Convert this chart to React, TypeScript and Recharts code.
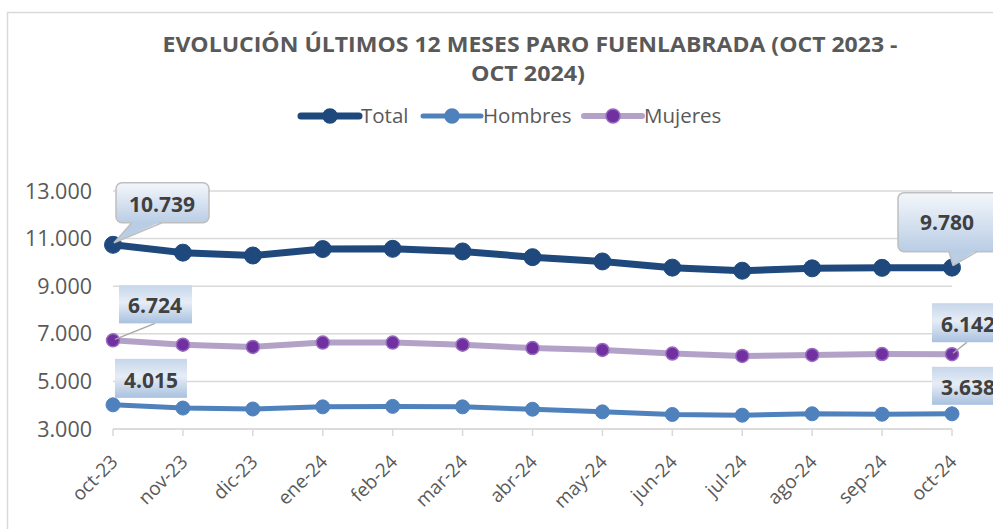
import React from 'react';
import { LineChart, Line, XAxis, YAxis, CartesianGrid, LabelList } from 'recharts';

const months = ['oct-23', 'nov-23', 'dic-23', 'ene-24', 'feb-24', 'mar-24', 'abr-24', 'may-24', 'jun-24', 'jul-24', 'ago-24', 'sep-24', 'oct-24'];
const total = [10739, 10410, 10290, 10560, 10570, 10460, 10220, 10040, 9780, 9650, 9750, 9770, 9780];
const hombres = [4015, 3880, 3840, 3930, 3950, 3930, 3830, 3720, 3610, 3580, 3640, 3620, 3638];
const mujeres = [6724, 6540, 6450, 6630, 6630, 6540, 6400, 6320, 6170, 6070, 6110, 6150, 6142];
const yTicks = [3000, 5000, 7000, 9000, 11000, 13000];

const data = months.map((mes, i) => ({ mes, total: total[i], hombres: hombres[i], mujeres: mujeres[i] }));

const FONT = '"Open Sans", "Noto Sans", sans-serif';
const GRAY = '#595959';
const GRID = '#d9d9d9';
const C_TOTAL = '#1F497D';
const C_HOMBRES = '#4F81BD';
const C_MUJERES = '#B3A2C7';
const C_MUJERES_DOT = '#7030A0';

const fmt = (v: number) => String(v).replace(/\B(?=(\d{3})+(?!\d))/g, '.');
const last = months.length - 1;

// callout with pointer (Total series)
const totalLabel = (props: any) => {
  const idx = props.index;
  if (idx !== 0 && idx !== last) return null;
  const px = props.x ?? props.viewBox?.x;
  const py = props.y ?? props.viewBox?.y;
  const first = idx === 0;
  const bx = first ? px + 3 : px - 54;
  const by = first ? py - 62 : py - 75;
  const bw = first ? 93 : 100;
  const bh = first ? 40 : 59;
  const b0 = first ? px + 19 : px - 3;
  const b1 = first ? px + 49 : px + 25;
  const tip = { x: px + 1, y: py - 2 };
  const id = `gt${idx}`;
  return (
    <g>
      <defs>
        <linearGradient id={id} x1="0" y1="0" x2="0" y2="1">
          <stop offset="0%" stopColor="#f4f7fb" />
          <stop offset="100%" stopColor="#b9cde5" />
        </linearGradient>
      </defs>
      <rect x={bx} y={by} width={bw} height={bh} rx={6} fill={`url(#${id})`} stroke="#bfbfbf" strokeWidth={1.5} />
      <polygon points={`${b0},${by + bh - 1.5} ${b1},${by + bh - 1.5} ${tip.x},${tip.y}`} fill="#b9cde5" />
      <line x1={b0} y1={by + bh} x2={tip.x} y2={tip.y} stroke="#bfbfbf" strokeWidth={1.5} />
      <line x1={b1} y1={by + bh} x2={tip.x} y2={tip.y} stroke="#bfbfbf" strokeWidth={1.5} />
      <text x={first ? px + 49 : px - 5} y={first ? py - 33 : py - 38} textAnchor="middle" fontFamily={FONT} fontWeight={700} fontSize={21} fill="#404040">
        {fmt(props.value)}
      </text>
    </g>
  );
};

// plain boxes (Hombres / Mujeres)
const boxLabel = (kind: 'h' | 'm') => (props: any) => {
  const idx = props.index;
  if (idx !== 0 && idx !== last) return null;
  const px = props.x ?? props.viewBox?.x;
  const py = props.y ?? props.viewBox?.y;
  const first = idx === 0;
  let bx, by, bw, bh, tx, ty;
  let leader: number[] | null = null;
  if (kind === 'm') {
    if (first) { bx = px + 6; by = py - 55; bw = 73; bh = 38; tx = px + 42; ty = py - 27; leader = [px + 2, py - 1, px + 42, py - 17]; }
    else { bx = px - 20; by = py - 51; bw = 75; bh = 39; tx = px + 16; ty = py - 22; leader = [px + 1, py - 1, px + 15, py - 12]; }
  } else {
    if (first) { bx = px + 2; by = py - 46; bw = 72; bh = 39; tx = px + 38; ty = py - 17; }
    else { bx = px - 20; by = py - 47; bw = 75; bh = 38; tx = px + 16; ty = py - 19; }
  }
  const id = `g${kind}${idx}`;
  return (
    <g>
      <defs>
        <linearGradient id={id} x1="0" y1="0" x2="0" y2="1">
          <stop offset="0%" stopColor="#c6d6ea" />
          <stop offset="45%" stopColor="#e6edf6" />
          <stop offset="100%" stopColor="#a9c1df" />
        </linearGradient>
      </defs>
      {leader && <line x1={leader[0]} y1={leader[1]} x2={leader[2]} y2={leader[3]} stroke="#a6a6a6" strokeWidth={1.5} />}
      <rect x={bx} y={by} width={bw} height={bh} fill={`url(#${id})`} />
      <text x={tx} y={ty} textAnchor="middle" fontFamily={FONT} fontWeight={700} fontSize={21} fill="#404040">
        {fmt(props.value)}
      </text>
    </g>
  );
};

const XTick = (props: any) => {
  const { x, y, payload } = props;
  const ax = x + 6;
  const ay = y + 25;
  return (
    <text x={ax} y={ay} transform={`rotate(-45, ${ax}, ${ay})`} textAnchor="end" fontFamily={FONT} fontSize={19} fill={GRAY}>
      {payload.value}
    </text>
  );
};

const LegendItem = ({ x, color, dot, dotStroke, width, label }: any) => (
  <g>
    <line x1={x} y1={116} x2={x + 58} y2={116} stroke={color} strokeWidth={width} strokeLinecap="round" />
    <circle cx={x + 29} cy={116} r={7} fill={dot} stroke={dotStroke} strokeWidth={1.5} />
    <text x={x + 60} y={123} fontFamily={FONT} fontSize={20.5} fill={GRAY}>{label}</text>
  </g>
);

export default function App() {
  return (
    <div style={{ position: 'absolute', left: 0, top: 0, width: 993, height: 529, background: '#fff', overflow: 'hidden' }}>
      <LineChart width={993} height={529} data={data} margin={{ top: 191, right: 41, bottom: 0, left: 0 }}>
        <CartesianGrid vertical={false} stroke={GRID} strokeWidth={1.5} />
        <XAxis dataKey="mes" interval={0} height={100} tickSize={7} stroke={GRID} strokeWidth={1.5} tick={<XTick />} padding={{ left: 0, right: 0 }} />
        <YAxis
          width={113}
          domain={[3000, 13000]}
          ticks={yTicks}
          axisLine={false}
          tickLine={false}
          tickSize={0}
          tickMargin={21}
          tickFormatter={fmt}
          tick={{ fill: GRAY, fontSize: 21.5, fontFamily: FONT }}
        />
        <Line dataKey="hombres" stroke={C_HOMBRES} strokeWidth={5} dot={{ r: 7, fill: C_HOMBRES, stroke: C_HOMBRES, strokeWidth: 1 }} activeDot={false} isAnimationActive={false}>
          <LabelList dataKey="hombres" content={boxLabel('h')} />
        </Line>
        <Line dataKey="mujeres" stroke={C_MUJERES} strokeWidth={6} dot={{ r: 6.5, fill: C_MUJERES_DOT, stroke: '#9a6cc0', strokeWidth: 1.5 }} activeDot={false} isAnimationActive={false}>
          <LabelList dataKey="mujeres" content={boxLabel('m')} />
        </Line>
        <Line dataKey="total" stroke={C_TOTAL} strokeWidth={7} dot={{ r: 8.5, fill: C_TOTAL, stroke: C_TOTAL, strokeWidth: 1 }} activeDot={false} isAnimationActive={false}>
          <LabelList dataKey="total" content={totalLabel} />
        </Line>
      </LineChart>
      <svg width={993} height={529} style={{ position: 'absolute', left: 0, top: 0, pointerEvents: 'none' }}>
        <rect x={7.5} y={12.5} width={1000} height={600} fill="none" stroke={GRID} strokeWidth={1.5} />
        <text x={530} y={52} textAnchor="middle" fontFamily={FONT} fontWeight={700} fontSize={22} fill={GRAY} textLength={735} lengthAdjust="spacingAndGlyphs">
          EVOLUCIÓN ÚLTIMOS 12 MESES PARO FUENLABRADA (OCT 2023 -
        </text>
        <text x={528} y={81} textAnchor="middle" fontFamily={FONT} fontWeight={700} fontSize={22} fill={GRAY} textLength={114} lengthAdjust="spacingAndGlyphs">
          OCT 2024)
        </text>
        <LegendItem x={301} color={C_TOTAL} dot={C_TOTAL} dotStroke={C_TOTAL} width={7} label="Total" />
        <LegendItem x={423} color={C_HOMBRES} dot={C_HOMBRES} dotStroke={C_HOMBRES} width={5} label="Hombres" />
        <LegendItem x={584} color={C_MUJERES} dot={C_MUJERES_DOT} dotStroke="#9a6cc0" width={6} label="Mujeres" />
      </svg>
    </div>
  );
}
